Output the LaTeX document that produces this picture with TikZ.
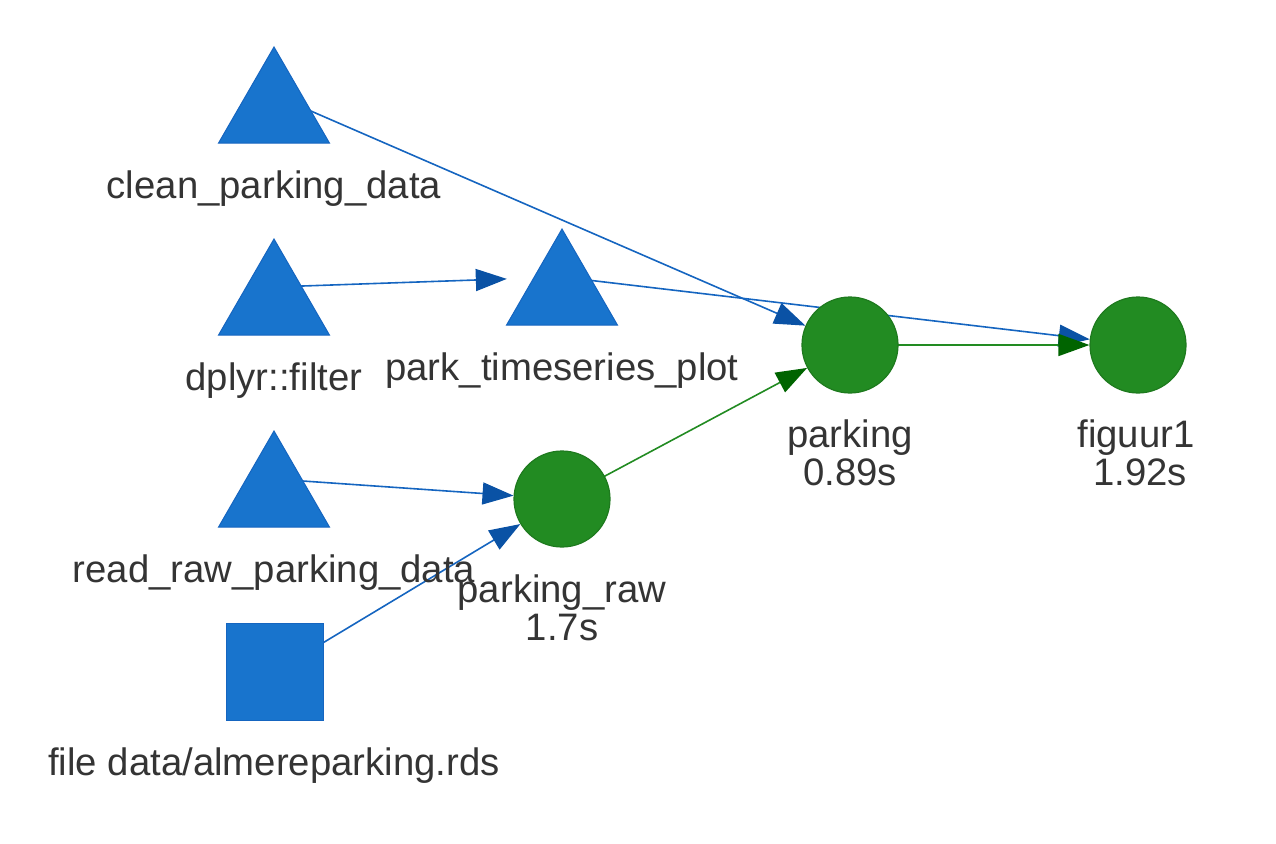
\documentclass[tikz,border=0pt]{standalone}
\usepackage{fontspec}
\setmainfont{Liberation Sans}
\usetikzlibrary{arrows.meta,shapes.geometric}
\pgfdeclarelayer{background}
\pgfsetlayers{background,main}
\definecolor{trifill}{HTML}{1874CD}
\definecolor{triline}{HTML}{1565C0}
\definecolor{edgeblue}{HTML}{1565C0}
\definecolor{tipblue}{HTML}{0A52A5}
\definecolor{grfill}{HTML}{228B22}
\definecolor{grline}{HTML}{1E7A1E}
\definecolor{edgegreen}{HTML}{228B22}
\definecolor{tipgreen}{HTML}{006400}
\definecolor{txt}{HTML}{343434}
\tikzset{
  hitbox/.style={circle,draw=none,minimum size=110pt,inner sep=0pt},
  tri/.style={regular polygon,regular polygon sides=3,minimum size=128pt,inner sep=0pt,fill=trifill,draw=triline,line width=1pt},
  sq/.style={rectangle,minimum size=97pt,inner sep=0pt,fill=trifill,draw=triline,line width=1pt},
  circ/.style={circle,minimum size=96pt,inner sep=0pt,fill=grfill,draw=grline,line width=1.2pt},
  lbl/.style={anchor=base,text=txt,font=\fontsize{38.3}{39}\selectfont,inner sep=0pt},
  be/.style={draw=edgeblue,line width=1.6pt,-{Triangle[length=31pt,width=22pt,color=tipblue]}},
  ge/.style={draw=edgegreen,line width=1.6pt,-{Triangle[length=31pt,width=22pt,color=tipgreen]}},
}
\begin{document}
\begin{tikzpicture}[x=1pt,y=-1pt]
\useasboundingbox (0,0) rectangle (1276,843);
% triangle nodes
\node[tri] (cleanTri) at (274,111) {};
\node[hitbox] (clean) at (274,95) {};
\node[tri] (dplyrTri) at (274,303) {};
\node[hitbox] (dplyr) at (274,287) {};
\node[tri] (readTri) at (274,495) {};
\node[hitbox] (read) at (274,479) {};
\node[tri] (ptsTri) at (562,293) {};
\node[hitbox] (pts) at (562,277) {};
\node[sq] (file) at (274.5,672) {};
\node[circ] (praw) at (562,499) {};
\node[circ] (parking) at (850,345) {};
\node[circ] (fig) at (1138,345) {};
% labels
\node[lbl] (cleanL) at (274,198) {clean\_parking\_data};
\node[lbl] (dplyrL) at (274,390) {dplyr::filter};
\node[lbl] (readL) at (274,582) {read\_raw\_parking\_data};
\node[lbl] (fileL) at (274,775) {file data/almereparking.rds};
\node[lbl] (ptsL) at (562,380) {park\_timeseries\_plot};
\node[lbl] (prawL) at (562,602) {parking\_raw};
\node[lbl] (prawT) at (562,640) {1.7s};
\node[lbl] (parkingL) at (850,447) {parking};
\node[lbl] (parkingT) at (850,485) {0.89s};
\node[lbl] (figL) at (1136,447) {figuur1};
\node[lbl] (figT) at (1140,485) {1.92s};
% edges
\begin{pgfonlayer}{background}
\draw[be] (clean.center) -- (parking);
\draw[be] (dplyr.center) -- (pts);
\draw[be] (pts.center) -- (fig);
\draw[be] (read.center) -- (praw);
\draw[be] (file.center) -- (praw);
\draw[ge] (praw.center) -- (parking);
\draw[ge] (parking.center) -- (fig);
\end{pgfonlayer}
\end{tikzpicture}
\end{document}
